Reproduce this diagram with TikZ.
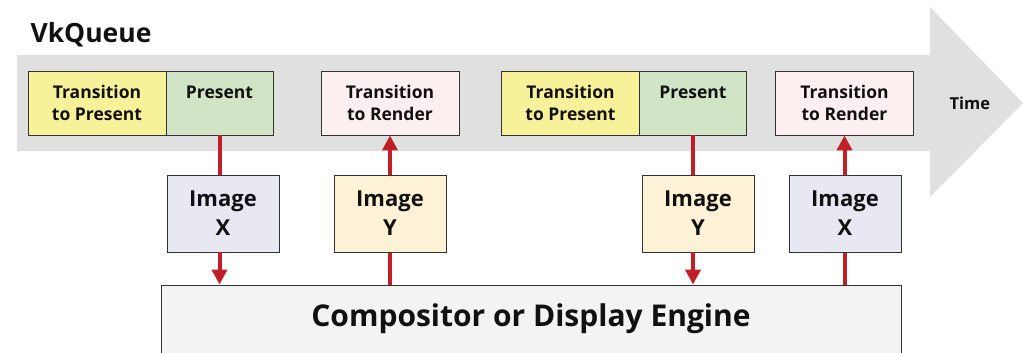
\documentclass[tikz,border=0pt]{standalone}
\usepackage{fontspec}
\setmainfont{Open Sans}
\usetikzlibrary{arrows.meta}
\definecolor{band}{HTML}{E0E0E0}
\definecolor{ttpfill}{HTML}{F7F29A}
\definecolor{presfill}{HTML}{D1E5C6}
\definecolor{ttrfill}{HTML}{FCEFEF}
\definecolor{imgxfill}{HTML}{E8E8F3}
\definecolor{imgyfill}{HTML}{FDF1D6}
\definecolor{compfill}{HTML}{F3F3F3}
\definecolor{flow}{HTML}{C01F28}
\definecolor{edge}{HTML}{333333}
\definecolor{ink}{HTML}{111111}
\tikzset{
  qbox/.style={draw=edge, line width=0.9pt, minimum height=64pt, inner sep=0pt,
    align=center, text=ink, font=\bfseries\fontsize{17.5}{22}\selectfont},
  ttp/.style={qbox, fill=ttpfill, minimum width=138pt},
  pres/.style={qbox, fill=presfill, minimum width=107pt},
  ttr/.style={qbox, fill=ttrfill, minimum width=138pt},
  imgbox/.style={draw=edge, line width=0.9pt, minimum width=112pt, minimum height=77pt,
    inner sep=0pt, align=center, text=ink, font=\bfseries\fontsize{22}{29}\selectfont},
  imgx/.style={imgbox, fill=imgxfill},
  imgy/.style={imgbox, fill=imgyfill},
  link/.style={draw=flow, line width=4pt},
  linkarrow/.style={link, -{Triangle[width=15pt,length=15pt]}},
}
\begin{document}
\begin{tikzpicture}[x=1pt,y=-1pt]
\useasboundingbox (0,0) rectangle (1023,353);
\clip (0,0) rectangle (1023,353);
% time arrow in the background
\fill[band] (17,55) -- (930,55) -- (930,7) -- (1023,103) -- (930,197) -- (930,151) -- (17,151) -- cycle;
\node[anchor=base west, text=ink, font=\bfseries\fontsize{26.5}{30}\selectfont] (title) at (27,43) {VkQueue};
\node[anchor=base west, text=ink, font=\bfseries\fontsize{16.5}{18}\selectfont] (time) at (946,109) {Time};
% queue operations
\node[ttp]  (ttp1)  at (97,103)    {Transition\\to Present};
\node[pres] (pres1) at (219.5,103) {Present\\\vphantom{to Present}};
\node[ttr]  (ttr1)  at (390,103)   {Transition\\to Render};
\node[ttp]  (ttp2)  at (570.5,103) {Transition\\to Present};
\node[pres] (pres2) at (693,103)   {Present\\\vphantom{to Present}};
\node[ttr]  (ttr2)  at (844.5,103) {Transition\\to Render};
% compositor
\node[draw=edge, line width=0.9pt, fill=compfill, minimum width=740pt, minimum height=120pt, inner sep=0pt] (comp) at (531,345) {};
\node[anchor=base, text=ink, font=\bfseries\fontsize{30}{36}\selectfont] (complabel) at (531,326) {Compositor or Display Engine};
% links through the images
\draw[link] (pres1.south) -- (pres1.south |- 0,175) coordinate (a1);
\draw[link] (ttr1.south |- comp.north) -- (ttr1.south |- 0,252) coordinate (b1);
\draw[link] (pres2.south) -- (pres2.south |- 0,176) coordinate (c1);
\draw[link] (ttr2.south |- comp.north) -- (ttr2.south |- 0,252) coordinate (d1);
\node[imgx] (imgx1) at (223,213.5) {Image\\X};
\node[imgy] (imgy1) at (390,213.5) {Image\\Y};
\node[imgy] (imgy2) at (698,213.5) {Image\\Y};
\node[imgx] (imgx2) at (845,213.5) {Image\\X};
\draw[linkarrow] (pres1.south |- imgx1.south) -- (pres1.south |- comp.north);
\draw[linkarrow] (ttr1.south |- imgy1.north) -- (ttr1.south);
\draw[linkarrow] (pres2.south |- imgy2.south) -- (pres2.south |- comp.north);
\draw[linkarrow] (ttr2.south |- imgx2.north) -- (ttr2.south);
\end{tikzpicture}
\end{document}
